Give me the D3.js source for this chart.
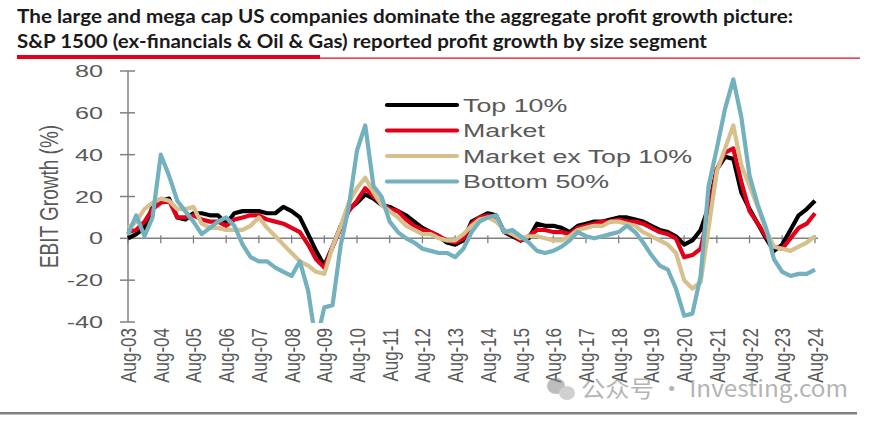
<!DOCTYPE html>
<html>
<head>
<meta charset="utf-8">
<script src="https://cdn.jsdelivr.net/npm/d3@7"></script>
<style>body{margin:0;background:#fff;}</style>
</head>
<body>
<div id="canvas"></div>
<script>
const canvWidth = 877, canvHeight = 423;

// quarterly readings, Aug-03 .. Aug-24
const seriesNames = ["Top 10%", "Market", "Market ex Top 10%", "Bottom 50%"];
const seriesColors = ["#000000", "#e2001a", "#d6c08e", "#72b1bd"];
const startDate = new Date(2003, 7, 1);

const top10 = [0, 2, 5, 15, 18, 19, 10, 9, 12, 12, 11, 11, 7, 12, 13, 13, 13, 12, 12, 15, 13, 10, 2, -6, -13, -4, 6, 14,
    17, 21, 19, 16, 15, 13, 11, 8, 5, 3, 1, -2, -3, -1, 8, 10, 12, 11, 3, 1, -1, 0, 7, 6, 6, 5, 3, 6,
    7, 8, 8, 9, 10, 10, 9, 8, 6, 4, 3, 1, -3, -1, 4, 15, 33, 39, 38, 22, 14, 7, 0, -6, -3, 4, 11, 14, 18];
const market = [3, 4, 8, 14, 17, 18, 10, 10, 11, 9, 8, 8, 6, 9, 10, 11, 11, 9, 8, 7, 5, 3, -3, -10, -14, -4, 5, 13,
    18, 24, 20, 17, 14, 13, 9, 6, 4, 3, 1, -1, -2, 0, 7, 10, 11, 10, 3, 2, -1, 1, 4, 4, 3, 3, 2, 5,
    6, 7, 8, 8, 9, 8, 8, 7, 5, 3, 2, 0, -9, -8, -5, 12, 33, 41, 43, 27, 13, 7, 1, -4, -5, 0, 5, 7, 12];
const marketExTop = [5, 8, 14, 17, 19, 18, 14, 14, 15, 7, 5, 5, 4, 4, 4, 6, 10, 5, 1, -3, -7, -11, -13, -16, -17, -4, 6, 17,
    24, 29, 22, 16, 13, 10, 6, 4, 2, 2, 0, -1, -1, 2, 6, 9, 10, 8, 4, 2, 0, 1, 1, 0, -1, -1, 1, 4,
    5, 6, 6, 8, 8, 7, 6, 3, 1, -1, -3, -7, -20, -24, -21, 5, 32, 43, 54, 35, 25, 15, 4, -4, -5, -6, -4, -2, 1];
const bottom50 = [2, 11, 1, 10, 40, 30, 18, 13, 8, 2, 5, 8, 10, 6, -3, -9, -11, -11, -14, -16, -18, -11, -25, -50, -33, -32, -3, 15,
    42, 54, 25, 20, 8, 3, 0, -2, -5, -6, -7, -7, -9, -5, 3, 8, 10, 11, 3, 4, 1, -2, -6, -7, -6, -4, -1, 3,
    1, 0, 1, 2, 3, 6, 3, -2, -8, -13, -15, -24, -37, -36, -18, 25, 43, 62, 76, 58, 30, 16, 5, -10, -16, -18, -17, -17, -15];

const yTicks = [-40, -20, 0, 20, 40, 60, 80];
const xTickYears = d3.range(2003, 2025);

const svg = d3.select("#canvas").append("svg")
    .attr("width", canvWidth)
    .attr("height", canvHeight)
    .style("font-family", "Liberation Sans, Arial, sans-serif");

const plot = {left: 128, right: 815, top: 71, bottom: 322};

const x = d3.scaleTime()
    .domain([startDate, new Date(2024, 7, 1)])
    .range([plot.left, plot.right]);
const y = d3.scaleLinear()
    .domain([-40, 80])
    .range([plot.bottom, plot.top]);

// title
const title = svg.append("g").style("font-family", "Lato, sans-serif").style("font-weight", 700)
    .style("font-size", "18.5px").attr("fill", "#1a1a1a");
title.append("text").attr("x", 17).attr("y", 23)
    .attr("textLength", 776).attr("lengthAdjust", "spacingAndGlyphs")
    .text("The large and mega cap US companies dominate the aggregate profit growth picture:");
title.append("text").attr("x", 17).attr("y", 48)
    .attr("textLength", 690).attr("lengthAdjust", "spacingAndGlyphs")
    .text("S&P 1500 (ex-financials & Oil & Gas) reported profit growth by size segment");
svg.append("rect").attr("x", 17).attr("y", 55).attr("width", 303).attr("height", 4).attr("fill", "#e2001a");
svg.append("rect").attr("x", 320).attr("y", 57.5).attr("width", 540).attr("height", 1.2).attr("fill", "#e2001a");

// y axis
const axisColor = "#808080";
svg.append("line").attr("x1", plot.left).attr("x2", plot.left)
    .attr("y1", y(80)).attr("y2", y(-40))
    .attr("stroke", axisColor).attr("stroke-width", 1.5);
svg.selectAll(".ytick").data(yTicks).enter().append("line")
    .attr("x1", plot.left - 8).attr("x2", plot.left + 7)
    .attr("y1", d => y(d)).attr("y2", d => y(d))
    .attr("stroke", axisColor).attr("stroke-width", 1.5);
svg.selectAll(".ylab").data(yTicks).enter().append("text")
    .attr("transform", d => "translate(103," + y(d) + ") scale(1.48,1)")
    .attr("text-anchor", "end").attr("dy", "0.36em")
    .style("font-size", "17px").attr("fill", "#595959")
    .text(d => d);
svg.append("text")
    .attr("transform", "translate(48," + ((plot.top + plot.bottom) / 2) + ") scale(1.4,1) rotate(-90)")
    .attr("text-anchor", "middle").attr("dy", "0.36em")
    .style("font-size", "19px").attr("fill", "#595959")
    .text("EBIT Growth (%)");

// x axis along zero
svg.append("line").attr("x1", plot.left).attr("x2", plot.right + 3)
    .attr("y1", y(0)).attr("y2", y(0))
    .attr("stroke", axisColor).attr("stroke-width", 1.5);
svg.selectAll(".xtick").data(xTickYears).enter().append("line")
    .attr("x1", d => x(new Date(d, 7, 1))).attr("x2", d => x(new Date(d, 7, 1)))
    .attr("y1", y(0) - 3).attr("y2", y(0) + 5)
    .attr("stroke", axisColor).attr("stroke-width", 1.3);
svg.selectAll(".xlab").data(xTickYears).enter().append("text")
    .attr("transform", d => "translate(" + x(new Date(d, 7, 1)) + ",328) scale(1.3,1) rotate(-90)")
    .attr("text-anchor", "end").attr("dy", "0.36em")
    .style("font-size", "17px").attr("fill", "#595959")
    .text(d => "Aug-" + String(d % 100).padStart(2, "0"));

// series
svg.append("clipPath").attr("id", "plotclip").append("rect")
    .attr("x", plot.left - 5).attr("y", plot.top - 10)
    .attr("width", plot.right - plot.left + 20).attr("height", plot.bottom - plot.top + 11);

const allSeries = [top10, market, marketExTop, bottom50];
const line = d3.line()
    .x((d, i) => x(d3.timeMonth.offset(startDate, i * 3)))
    .y(d => y(d));

svg.append("g").attr("clip-path", "url(#plotclip)")
    .selectAll("path").data(allSeries).enter().append("path")
    .attr("d", d => line(d))
    .attr("fill", "none")
    .attr("stroke", (d, i) => seriesColors[i])
    .attr("stroke-width", 4.2)
    .attr("stroke-linejoin", "round");

// legend
const legend = svg.append("g");
seriesNames.forEach(function (name, i) {
    const ly = 105 + i * 25.5;
    legend.append("line").attr("x1", 387).attr("x2", 457).attr("y1", ly).attr("y2", ly)
        .attr("stroke", seriesColors[i]).attr("stroke-width", 4.2).attr("stroke-linecap", "round");
    legend.append("text")
        .attr("transform", "translate(463," + ly + ") scale(1.45,1)")
        .attr("dy", "0.36em")
        .style("font-size", "18.5px").attr("fill", "#595959")
        .text(name);
});

// watermark + bottom rule
const wm = svg.append("g").attr("opacity", 0.55);
wm.append("ellipse").attr("cx", 556).attr("cy", 386).attr("rx", 9).attr("ry", 8).attr("fill", "#888");
wm.append("ellipse").attr("cx", 567).attr("cy", 393).attr("rx", 8).attr("ry", 7).attr("fill", "#aaa");
wm.append("text").attr("x", 581).attr("y", 397)
    .style("font-family", "Noto Sans CJK SC, Noto Sans, sans-serif")
    .style("font-size", "23px").attr("fill", "#777")
    .attr("textLength", 267).attr("lengthAdjust", "spacingAndGlyphs")
    .text("公众号 · Investing.com");
svg.append("rect").attr("x", 0).attr("y", 412).attr("width", 857).attr("height", 2.5).attr("fill", "#808080");
</script>
</body>
</html>
